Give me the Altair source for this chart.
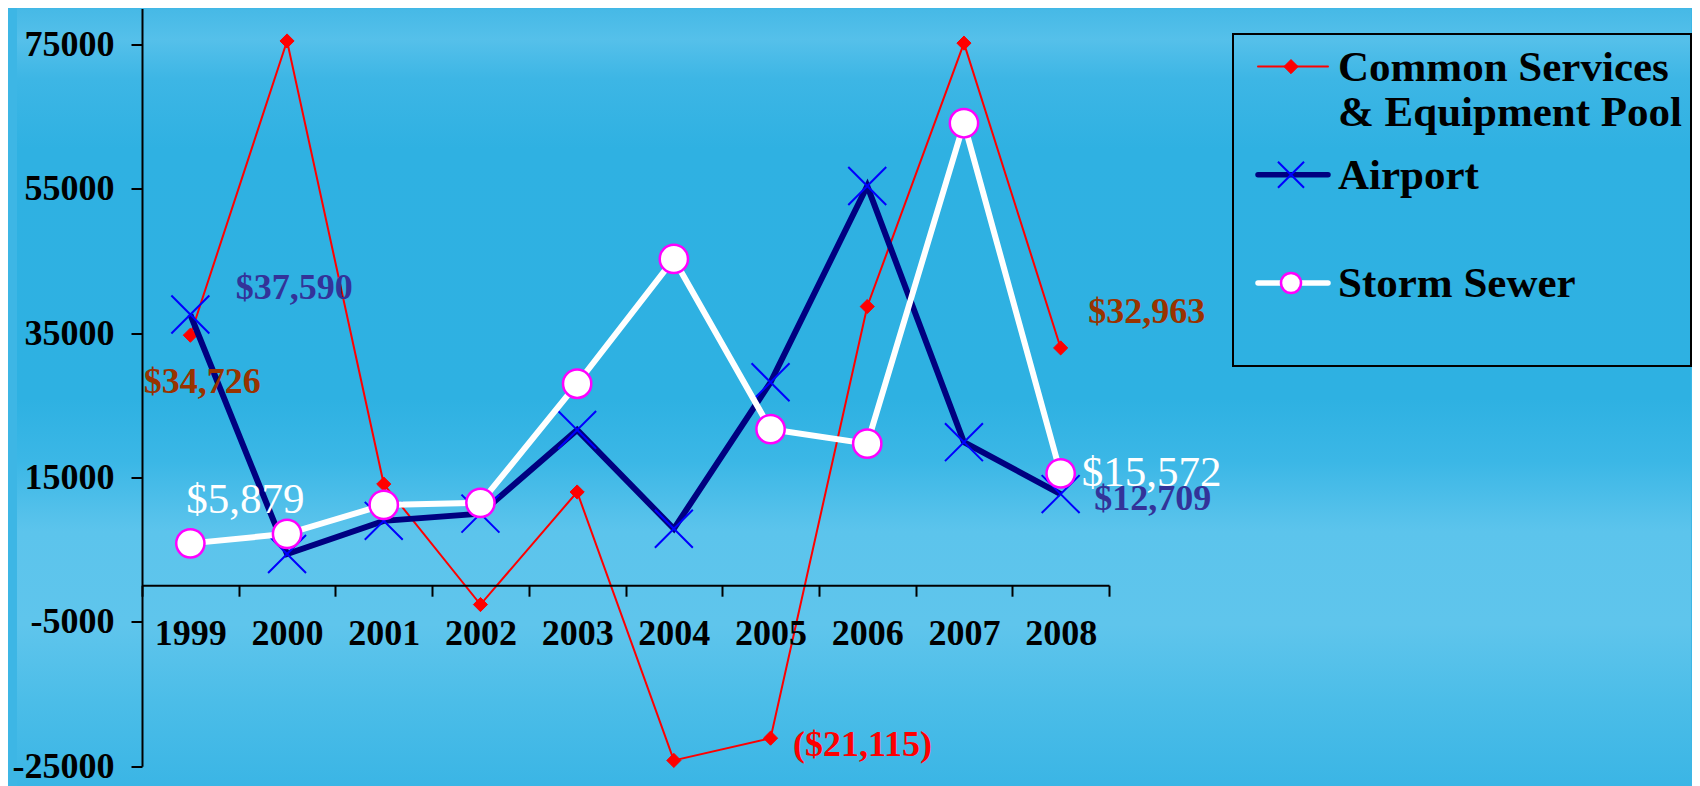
import altair as alt
import pandas as pd

# ---------------- data ----------------
years = ["1999", "2000", "2001", "2002", "2003", "2004", "2005", "2006", "2007", "2008"]
common = [34726, 75500, 14100, -2600, 13000, -24200, -21115, 38700, 75200, 32963]
airport = [37590, 4400, 9000, 10000, 21600, 7900, 28200, 55400, 19900, 12709]
storm = [5879, 7200, 11200, 11500, 28000, 45300, 21700, 19700, 64100, 15572]
series_names = ["Common Services & Equipment Pool", "Airport", "Storm Sewer"]
legend_line1 = ["Common Services", "Airport", "Storm Sewer"]
legend_line2 = ["& Equipment Pool", "", ""]
y_ticks = [-25000, -5000, 15000, 35000, 55000, 75000]
y_domain = [-25000, 80000]

rows = []
for name, vals in zip(series_names, [common, airport, storm]):
    for yr, v in zip(years, vals):
        rows.append({"year": yr, "series": name, "value": v})
df = pd.DataFrame(rows)

# ---------------- style ----------------
FONT = "Liberation Serif"
BG = "#3db6e5"
W, H = 967, 757.7
SPACING = 124
LW, LH = 458, 357.4

sky = alt.Gradient(
    gradient="linear", x1=0, x2=0, y1=0, y2=1,
    stops=[
        alt.GradientStop(color="#46b9e6", offset=0.0),
        alt.GradientStop(color="#55c0ea", offset=0.04),
        alt.GradientStop(color="#3db6e5", offset=0.09),
        alt.GradientStop(color="#2fb1e2", offset=0.18),
        alt.GradientStop(color="#2eb1e2", offset=0.50),
        alt.GradientStop(color="#3bb7e6", offset=0.58),
        alt.GradientStop(color="#5cc4ec", offset=0.67),
        alt.GradientStop(color="#5fc5ec", offset=0.79),
        alt.GradientStop(color="#4bbde8", offset=0.89),
        alt.GradientStop(color="#3ab5e5", offset=1.0),
    ],
)

line_style = {
    series_names[0]: dict(color="#ff0000", strokeWidth=2),
    series_names[1]: dict(color="#000080", strokeWidth=6),
    series_names[2]: dict(color="#ffffff", strokeWidth=6),
}
X_PATH = "M-1,-1L1,1M-1,1L1,-1"
point_style = {
    series_names[0]: dict(shape="diamond", filled=True, fill="#ff0000", stroke="#ff0000", strokeWidth=1, size=200, opacity=1),
    series_names[1]: dict(shape=X_PATH, filled=False, stroke="#0000ff", strokeWidth=2, size=1440, opacity=1),
    series_names[2]: dict(shape="circle", filled=True, fill="#ffffff", stroke="#ff00ff", strokeWidth=2.5, size=800, opacity=1),
}
legend_point_size = {series_names[0]: 200, series_names[1]: 680, series_names[2]: 400}
legend_line_width = {series_names[0]: 2, series_names[1]: 5.5, series_names[2]: 5.5}

x_enc = alt.X(
    "year:N", sort=years,
    scale=alt.Scale(type="band", paddingInner=0, paddingOuter=0),
    axis=alt.Axis(title=None, offset=-181, tickBand="extent", labelAngle=0, zindex=1,
                  labelFont=FONT, labelFontSize=36, labelFontWeight="bold", labelColor="black",
                  labelPadding=20, tickSize=11, tickColor="black", tickWidth=2,
                  domainColor="black", domainWidth=2, labelOverlap=False, grid=False),
)
y_enc = alt.Y(
    "value:Q",
    scale=alt.Scale(domain=y_domain, nice=False, zero=False),
    axis=alt.Axis(title=None, values=y_ticks, labelExpr="'' + datum.value", zindex=1,
                  labelFont=FONT, labelFontSize=36, labelFontWeight="bold", labelColor="black",
                  labelPadding=17, tickSize=11, tickColor="black", tickWidth=2,
                  domainColor="black", domainWidth=2, grid=False),
)

base = alt.Chart(df).encode(x=x_enc, y=y_enc)

# sky background panel behind the chart (decoration only), kept inside the chart's own extent
background = (
    alt.Chart(pd.DataFrame({"bg": [1]}))
    .mark_rect(fill=sky, strokeWidth=0)
    .encode(x=alt.value(-125), x2=alt.value(W + SPACING + LW), y=alt.value(0), y2=alt.value(780))
)

layers = [background]
for s in series_names:
    sub = base.transform_filter(alt.datum.series == s)
    layers.append(sub.mark_line(**line_style[s]))
    layers.append(sub.mark_point(**point_style[s]))

label_expr = ("datum.value < 0 ? '($' + format(-datum.value, ',') + ')' : "
              "'$' + format(datum.value, ',')")
label_specs = [
    (series_names[1], "1999", "#333399", 36, "bold", 104, -27),
    (series_names[0], "1999", "#993300", 36, "bold", 12, 47),
    (series_names[2], "1999", "#ffffff", 43, "normal", 55, -43),
    (series_names[0], "2005", "#ff0000", 36, "bold", 92, 7),
    (series_names[0], "2008", "#993300", 36, "bold", 86, -36),
    (series_names[2], "2008", "#ffffff", 43, "normal", 91, 0),
    (series_names[1], "2008", "#333399", 36, "bold", 92, 5),
]
for s, yr, col, fs, fw, dx, dy in label_specs:
    layers.append(
        base.transform_filter((alt.datum.series == s) & (alt.datum.year == yr))
        .transform_calculate(label=label_expr)
        .mark_text(font=FONT, fontSize=fs, fontWeight=fw, color=col,
                   align="center", baseline="middle", dx=dx, dy=dy)
        .encode(text="label:N")
    )

main = alt.layer(*layers).properties(width=W, height=H)

# ---------------- legend panel ----------------
BOX_TOP = 25.4
leg_df = pd.DataFrame({"series": series_names, "line1": legend_line1, "line2": legend_line2})
leg_y = alt.Y("series:N", sort=series_names,
              scale=alt.Scale(type="point", padding=0.652, align=0.412), axis=None)
leg_base = alt.Chart(leg_df).encode(y=leg_y)

leg_layers = [
    alt.Chart(pd.DataFrame({"box": [1]})).mark_rect(fillOpacity=0, stroke="black", strokeWidth=2)
    .encode(x=alt.value(0), x2=alt.value(LW), y=alt.value(BOX_TOP), y2=alt.value(LH))
]
for s in series_names:
    sub = leg_base.transform_filter(alt.datum.series == s)
    ls = dict(line_style[s])
    ls["strokeWidth"] = legend_line_width[s]
    leg_layers.append(sub.mark_rule(strokeCap="round", **ls).encode(x=alt.value(25), x2=alt.value(95)))
    ps = dict(point_style[s])
    ps["size"] = legend_point_size[s]
    leg_layers.append(sub.mark_point(**ps).encode(x=alt.value(58)))
leg_layers.append(
    leg_base.mark_text(font=FONT, fontSize=43, fontWeight="bold", color="black",
                       align="left", baseline="middle", dy=1)
    .encode(x=alt.value(105), text="line1:N")
)
leg_layers.append(
    leg_base.mark_text(font=FONT, fontSize=43, fontWeight="bold", color="black",
                       align="left", baseline="middle", dy=46.5)
    .encode(x=alt.value(105), text="line2:N")
)
legend = alt.layer(*leg_layers).properties(width=LW, height=LH)

chart = (
    alt.hconcat(main, legend, spacing=SPACING, bounds="flush")
    .configure(background=BG, padding={"left": 4, "top": 0.5, "right": 0, "bottom": 0})
    .configure_view(stroke=None)
)

chart.save("out.html", embed_options={"renderer": "svg", "actions": False})
